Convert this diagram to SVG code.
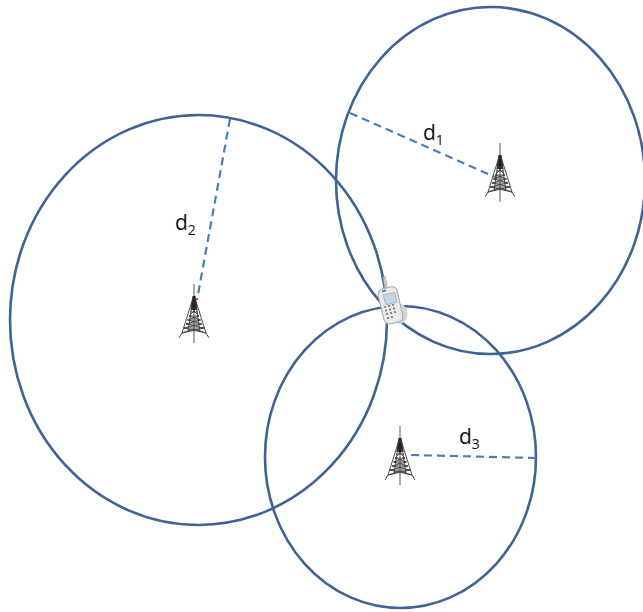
<svg xmlns="http://www.w3.org/2000/svg" width="643" height="612" viewBox="0 0 643 612">
<style>
.ring{fill:none;stroke:#3f6396;stroke-width:2.6}
.dash{fill:none;stroke:#4a7ebb;stroke-width:2.2;stroke-dasharray:8 5}
.lbl{font-family:"Open Sans","Noto Sans","Liberation Sans",sans-serif;font-size:21px;fill:#111}
.sub{font-size:14px}
.t{fill:none;stroke:#3a3a3a;stroke-width:.9}
</style>
<defs>
<g id="tower">
<path d="M0-30V29" fill="none" stroke="#555" stroke-width="1"/>
<path d="M-1.500-18L1.500-18L3.500-4L-3.500-4Z" fill="#222"/>
<path class="t" d="M-1-16L-12 19M1-16L12 19M-12 19L-15 24M12 19L15 24M-1-16L-6 18M1-16L6 18"/>
<path class="t" d="M-3-6L3-6M-4-2L4-2M-5 2L5 2M-6.500 6L6.500 6M-8 10L8 10M-10 14L10 14M-12 19L0 15L12 19M-3-6L5 2L-6.500 6L8 10L-10 14L12 19M3-6L-5 2L6.500 6L-8 10L10 14L-12 19"/>
</g>
</defs>
<rect width="643" height="612" fill="#fff"/>
<g id="connectors">
<ellipse class="ring" cx="198.500" cy="320" rx="188.500" ry="205"/>
<ellipse class="ring" cx="490.500" cy="180.500" rx="154.500" ry="173.500"/>
<ellipse class="ring" cx="400.500" cy="457" rx="135.500" ry="151"/>
<path class="dash" d="M350 113L497 178"/>
<path class="dash" d="M230 119L197 300"/>
<path class="dash" d="M411 455L536 458"/>
</g>
<g id="tower-1"><use href="#tower" x="500" y="173"/></g>
<g id="tower-2"><use href="#tower" x="194" y="314"/></g>
<g id="tower-3"><use href="#tower" x="400" y="456"/></g>
<g id="phone">
<ellipse cx="400" cy="314" rx="7.500" ry="10" fill="#d4d4d4"/>
<path d="M383 277L385.500 276.500L387.500 289L385 290Z" fill="#c9c9d2" stroke="#999" stroke-width=".5"/>
<path d="M378 295Q378 290 382 289L392 286.500Q396 286.500 397 290L403 317Q403 321 399 322L389 324Q385 324 384 320Z" fill="#e9e9ec" stroke="#a5a5a8" stroke-width="1"/>
<path d="M383 295L395 292.500L397 302L386 305Z" fill="#c4d5e6" stroke="#7c8b9a" stroke-width=".5"/>
<path d="M382 291.500L386 290.500" stroke="#2b6fc0" stroke-width="1.500"/>
<g fill="#77777c"><circle cx="385" cy="307" r="1.100"/><circle cx="389" cy="306" r="1.100"/><circle cx="393" cy="305" r="1.100"/><circle cx="386" cy="310.500" r="1.100"/><circle cx="390" cy="309.500" r="1.100"/><circle cx="394" cy="308.500" r="1.100"/><circle cx="387" cy="314" r="1.100"/><circle cx="391" cy="313" r="1.100"/><circle cx="395" cy="312" r="1.100"/><circle cx="388" cy="318" r="1.100"/><circle cx="392" cy="317" r="1.100"/></g>
</g>
<g id="labels">
<text class="lbl" x="423" y="140">d<tspan class="sub" dy="5">1</tspan></text>
<text class="lbl" x="175" y="230">d<tspan class="sub" dy="5">2</tspan></text>
<text class="lbl" x="459" y="444">d<tspan class="sub" dy="5">3</tspan></text>
</g>
</svg>
